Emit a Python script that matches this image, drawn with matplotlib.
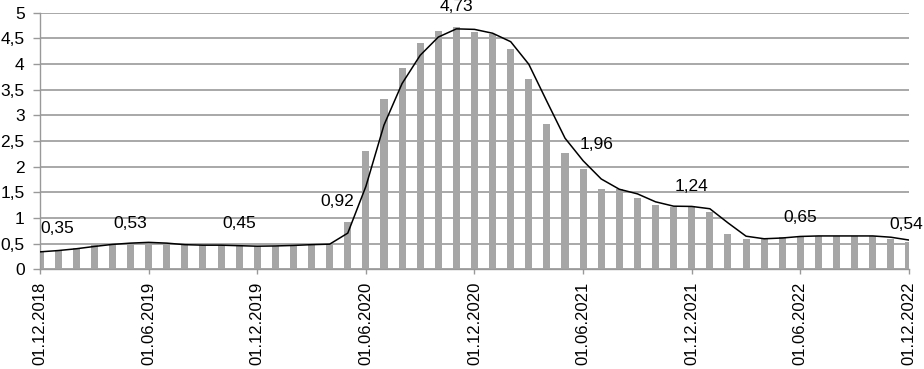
import matplotlib
matplotlib.use("Agg")
import matplotlib.pyplot as plt
from matplotlib.ticker import FuncFormatter
import numpy as np

# monthly values, 01.12.2018 .. 01.12.2022
months = ["01.12.2018", "01.06.2019", "01.12.2019", "01.06.2020", "01.12.2020",
          "01.06.2021", "01.12.2021", "01.06.2022", "01.12.2022"]
bar_values = [0.35, 0.38, 0.42, 0.47, 0.50, 0.52, 0.53, 0.49, 0.47, 0.47,
              0.47, 0.45, 0.45, 0.46, 0.47, 0.49, 0.49, 0.92, 2.31, 3.31,
              3.93, 4.41, 4.64, 4.73, 4.62, 4.58, 4.29, 3.70, 2.84, 2.27,
              1.96, 1.56, 1.56, 1.38, 1.25, 1.21, 1.24, 1.12, 0.69, 0.60,
              0.59, 0.63, 0.65, 0.65, 0.65, 0.65, 0.65, 0.60, 0.54]
# trend line (2-month moving average)
line_values = [0.34, 0.365, 0.40, 0.445, 0.485, 0.51, 0.525, 0.51, 0.48, 0.47,
               0.47, 0.46, 0.45, 0.455, 0.465, 0.48, 0.49, 0.705, 1.615, 2.81,
               3.62, 4.17, 4.525, 4.685, 4.675, 4.60, 4.435, 3.995, 3.27, 2.555,
               2.115, 1.76, 1.56, 1.47, 1.315, 1.23, 1.225, 1.18, 0.905, 0.645,
               0.595, 0.61, 0.64, 0.65, 0.65, 0.65, 0.65, 0.625, 0.57]
# labelled points: index, x shift (px), y shift (px)
label_idx = [0, 6, 12, 17, 23, 30, 36, 42, 48]
label_dx = [17, -18, -18, -11, 0, 13, 0, 0, -3]
label_dy = [23, 19, 23, 21, 20, 24, 19, 18, 17]

plt.rcParams['font.family'] = ['Liberation Sans', 'DejaVu Sans']

fig = plt.figure(figsize=(9.24, 3.69), dpi=100)
ax = fig.add_axes([40 / 924, 1 - 269.3 / 369, 869 / 924, 256.6 / 369])

x = np.arange(len(bar_values))
ax.bar(x, bar_values, width=0.39, color='#a6a6a6', zorder=2)
ax.plot(x, line_values, color='black', lw=1.1, zorder=3)

for i, dx, dy in zip(label_idx, label_dx, label_dy):
    txt = "{:.2f}".format(bar_values[i]).replace('.', ',')
    ax.annotate(txt, (x[i], bar_values[i]), xytext=(dx, dy),
                textcoords='offset pixels', ha='center', va='center',
                fontsize=12.5, annotation_clip=False, zorder=4)

ax.set_xlim(0, len(bar_values) - 1)
ax.set_ylim(0, 5)
ax.set_yticks(np.arange(0, 5.01, 0.5))
ax.yaxis.set_major_formatter(FuncFormatter(lambda v, p: ("%g" % v).replace('.', ',')))
ax.set_xticks(np.arange(0, len(bar_values), 6))
ax.set_xticklabels(months, rotation=90)

ax.yaxis.grid(True, color='#9a9a9a', lw=1.2, zorder=0)
ax.set_axisbelow(True)
for s in ['top', 'right']:
    ax.spines[s].set_visible(False)
for s in ['left', 'bottom']:
    ax.spines[s].set_color('#999999')
    ax.spines[s].set_linewidth(1)

ax.tick_params(axis='y', length=5, width=1, color='#999999', pad=6, labelsize=12.5)
ax.tick_params(axis='x', length=3.6, width=1, color='#999999', pad=5.5, labelsize=12)

plt.savefig('out.png', dpi=100)
